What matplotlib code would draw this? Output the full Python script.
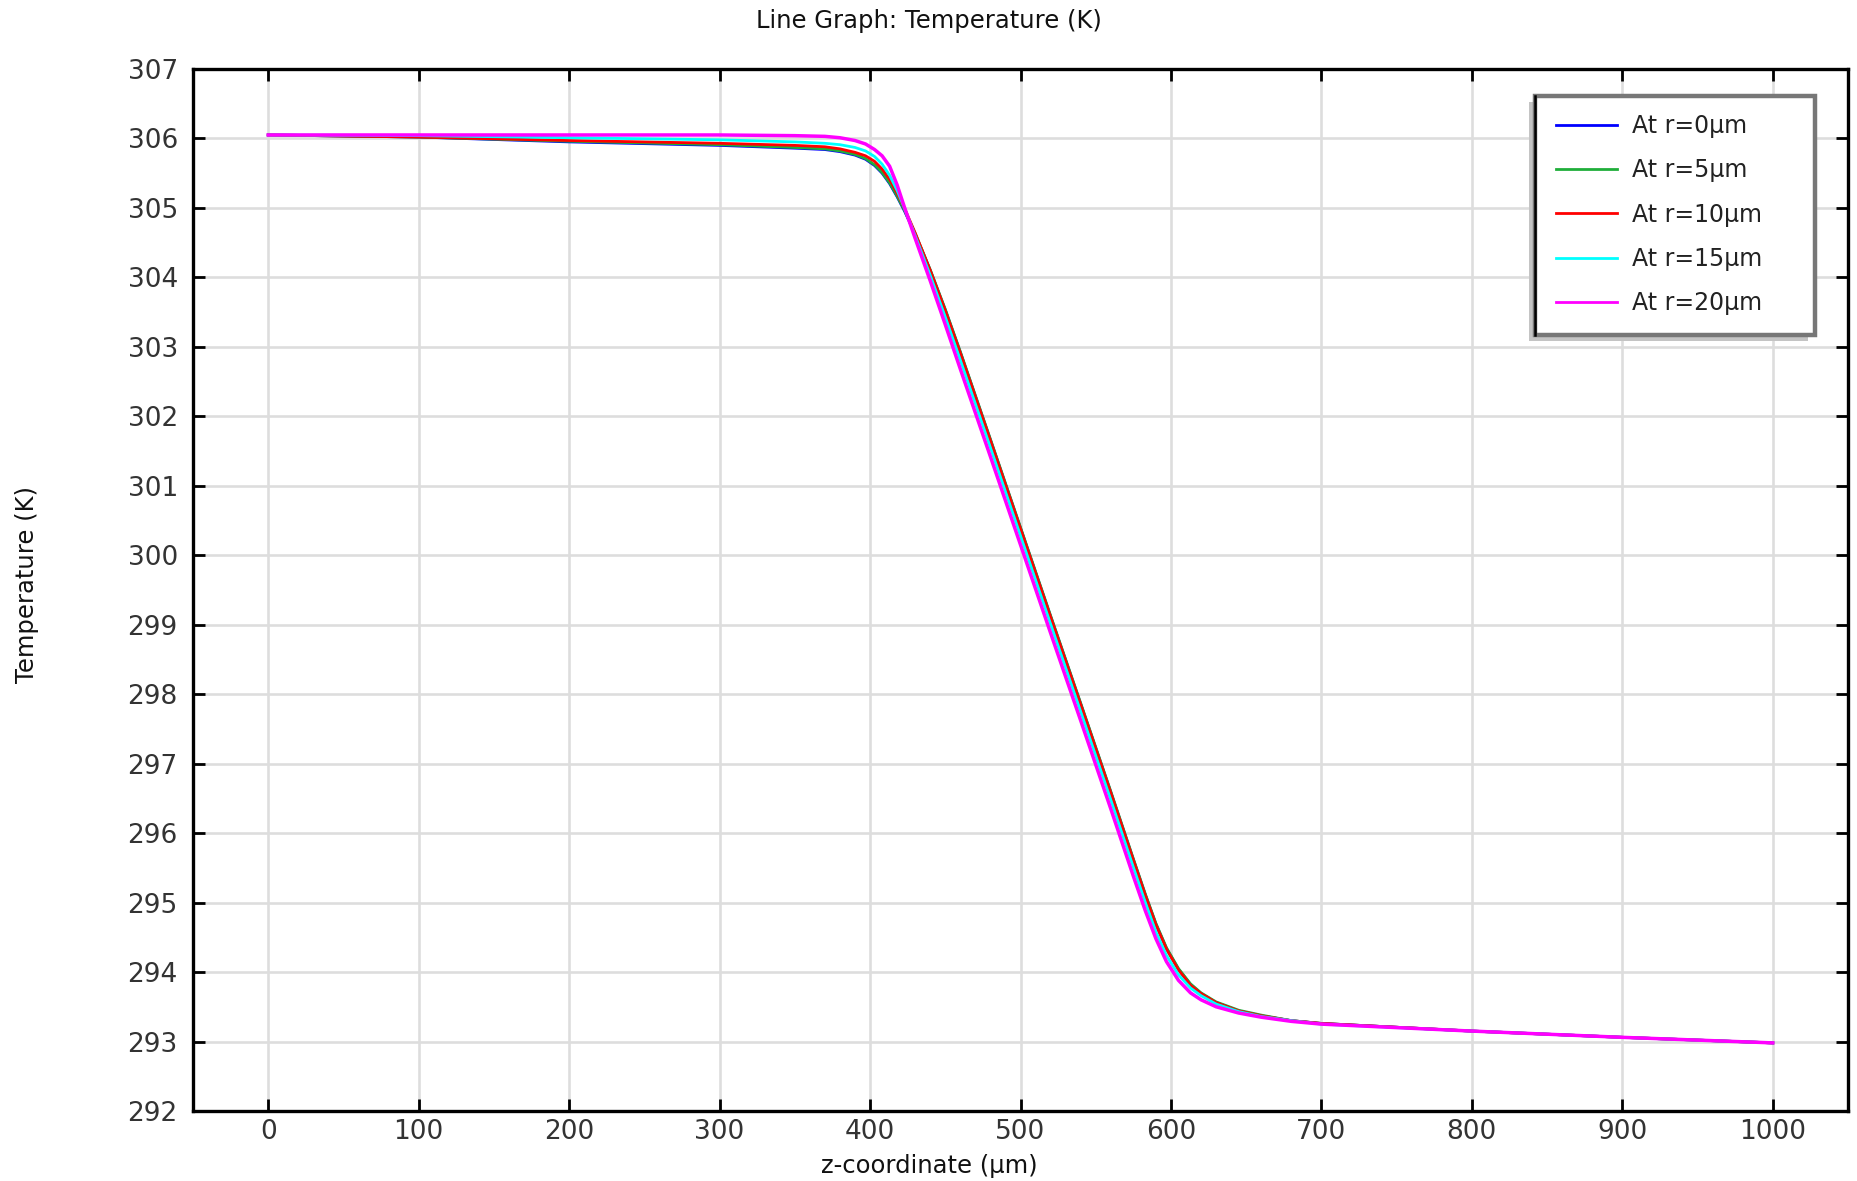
import matplotlib
matplotlib.use("Agg")
from matplotlib import pyplot as plt
from matplotlib.patches import Rectangle

# z-coordinate samples (um)
z = [0, 100, 200, 300, 350, 370, 380, 390, 397, 403, 408, 413, 418, 423, 430, 440,
     450, 460, 480, 500, 520, 540, 560, 575, 583, 590, 597, 605, 613, 620, 630, 645,
     660, 680, 700, 800, 900, 1000]

# temperature (K) along z at each radius
T_r0 = [306.05, 306.02, 305.95, 305.90, 305.86, 305.84, 305.81, 305.76, 305.70, 305.61,
        305.50, 305.35, 305.16, 304.95, 304.62, 304.10, 303.53, 302.92, 301.66, 300.39,
        299.12, 297.86, 296.59, 295.62, 295.11, 294.69, 294.34, 294.04, 293.82, 293.69,
        293.56, 293.44, 293.37, 293.30, 293.26, 293.15, 293.06, 292.98]
T_r5 = [306.05, 306.02, 305.96, 305.91, 305.87, 305.85, 305.82, 305.77, 305.71, 305.62,
        305.51, 305.36, 305.17, 304.96, 304.63, 304.11, 303.54, 302.93, 301.67, 300.40,
        299.13, 297.87, 296.60, 295.63, 295.12, 294.70, 294.35, 294.05, 293.83, 293.70,
        293.57, 293.45, 293.38, 293.30, 293.26, 293.15, 293.06, 292.98]
T_r10 = [306.05, 306.02, 305.97, 305.93, 305.90, 305.88, 305.85, 305.80, 305.75, 305.67,
         305.56, 305.41, 305.21, 304.99, 304.64, 304.10, 303.52, 302.91, 301.65, 300.38,
         299.11, 297.85, 296.58, 295.61, 295.10, 294.68, 294.33, 294.03, 293.81, 293.69,
         293.56, 293.44, 293.37, 293.30, 293.26, 293.15, 293.06, 292.98]
T_r15 = [306.05, 306.04, 306.01, 305.98, 305.95, 305.93, 305.91, 305.87, 305.82, 305.74,
         305.63, 305.47, 305.25, 304.99, 304.60, 304.03, 303.43, 302.81, 301.55, 300.28,
         299.01, 297.75, 296.48, 295.51, 295.00, 294.58, 294.24, 293.96, 293.77, 293.66,
         293.54, 293.43, 293.36, 293.30, 293.25, 293.15, 293.06, 292.98]
T_r20 = [306.05, 306.05, 306.05, 306.05, 306.04, 306.03, 306.01, 305.97, 305.92, 305.84,
         305.75, 305.60, 305.33, 305.00, 304.56, 303.95, 303.32, 302.68, 301.42, 300.15,
         298.88, 297.62, 296.35, 295.38, 294.88, 294.48, 294.15, 293.88, 293.70, 293.60,
         293.50, 293.41, 293.35, 293.29, 293.25, 293.15, 293.06, 292.98]

series = [T_r0, T_r5, T_r10, T_r15, T_r20]
labels = ["At r=0µm", "At r=5µm", "At r=10µm", "At r=15µm", "At r=20µm"]
colors = ["#0000ff", "#1fae3a", "#ff0000", "#00ffff", "#ff00ff"]

xticks = list(range(0, 1001, 100))
yticks = list(range(292, 308))

plt.rcParams['font.family'] = ['DejaVu Sans']

fig = plt.figure(figsize=(18.58, 11.81), dpi=100)
ax = fig.add_axes([0.1039, 0.0593, 0.8907, 0.8823])

for T, lab, c in zip(series, labels, colors):
    lw = 2.5 if c == "#ff00ff" else 2.0
    ax.plot(z, T, color=c, linewidth=lw, label=lab)

ax.set_xlim(-50, 1050)
ax.set_ylim(292, 307)
ax.set_xticks(xticks)
ax.set_yticks(yticks)

# grid and frame
ax.grid(True, color="#dddddd", linewidth=1.9)
ax.set_axisbelow(True)
for s in ['top', 'bottom', 'left', 'right']:
    ax.spines[s].set_linewidth(2.4)
ax.tick_params(direction='in', length=8.5, width=2, top=True, right=True,
               labelsize=19, labelcolor="#333333")
ax.tick_params(axis='x', pad=6)
ax.tick_params(axis='y', pad=11)

fig.text(0.5, 0.982, "Line Graph: Temperature (K)", ha='center', va='center',
         fontsize=17.5, color="#111111")
fig.text(0.5, 0.0127, "z-coordinate (µm)", ha='center', va='center',
         fontsize=17.5, color="#111111")
fig.text(0.0145, 0.505, "Temperature (K)", ha='center', va='center',
         rotation=90, fontsize=17.5, color="#111111")

# legend with a hand-drawn frame
leg = ax.legend(loc='upper left', bbox_to_anchor=(0.8375, 0.9035),
                bbox_transform=fig.transFigure, frameon=False, borderpad=0,
                borderaxespad=0, handlelength=2.6, handletextpad=0.6,
                labelspacing=0.86, fontsize=17)
for t in leg.get_texts():
    t.set_color("#222222")
for h in leg.get_lines():
    h.set_linewidth(2.0)

shadow = Rectangle((0.8230, 0.7110), 0.1500, 0.2030, transform=fig.transFigure,
                   facecolor="#c4c4c4", edgecolor='none', zorder=3)
box = Rectangle((0.8262, 0.7163), 0.1507, 0.2024, transform=fig.transFigure,
                facecolor="white", edgecolor="#777777", linewidth=3.2, zorder=4)
fig.patches.extend([shadow, box])
fig.add_artist(plt.Line2D([0.8262, 0.8262], [0.7163, 0.9187], transform=fig.transFigure,
                          color="black", linewidth=1.8, zorder=5))
leg.set_zorder(6)
fig.add_artist(leg)

plt.savefig("out.png", dpi=100)
